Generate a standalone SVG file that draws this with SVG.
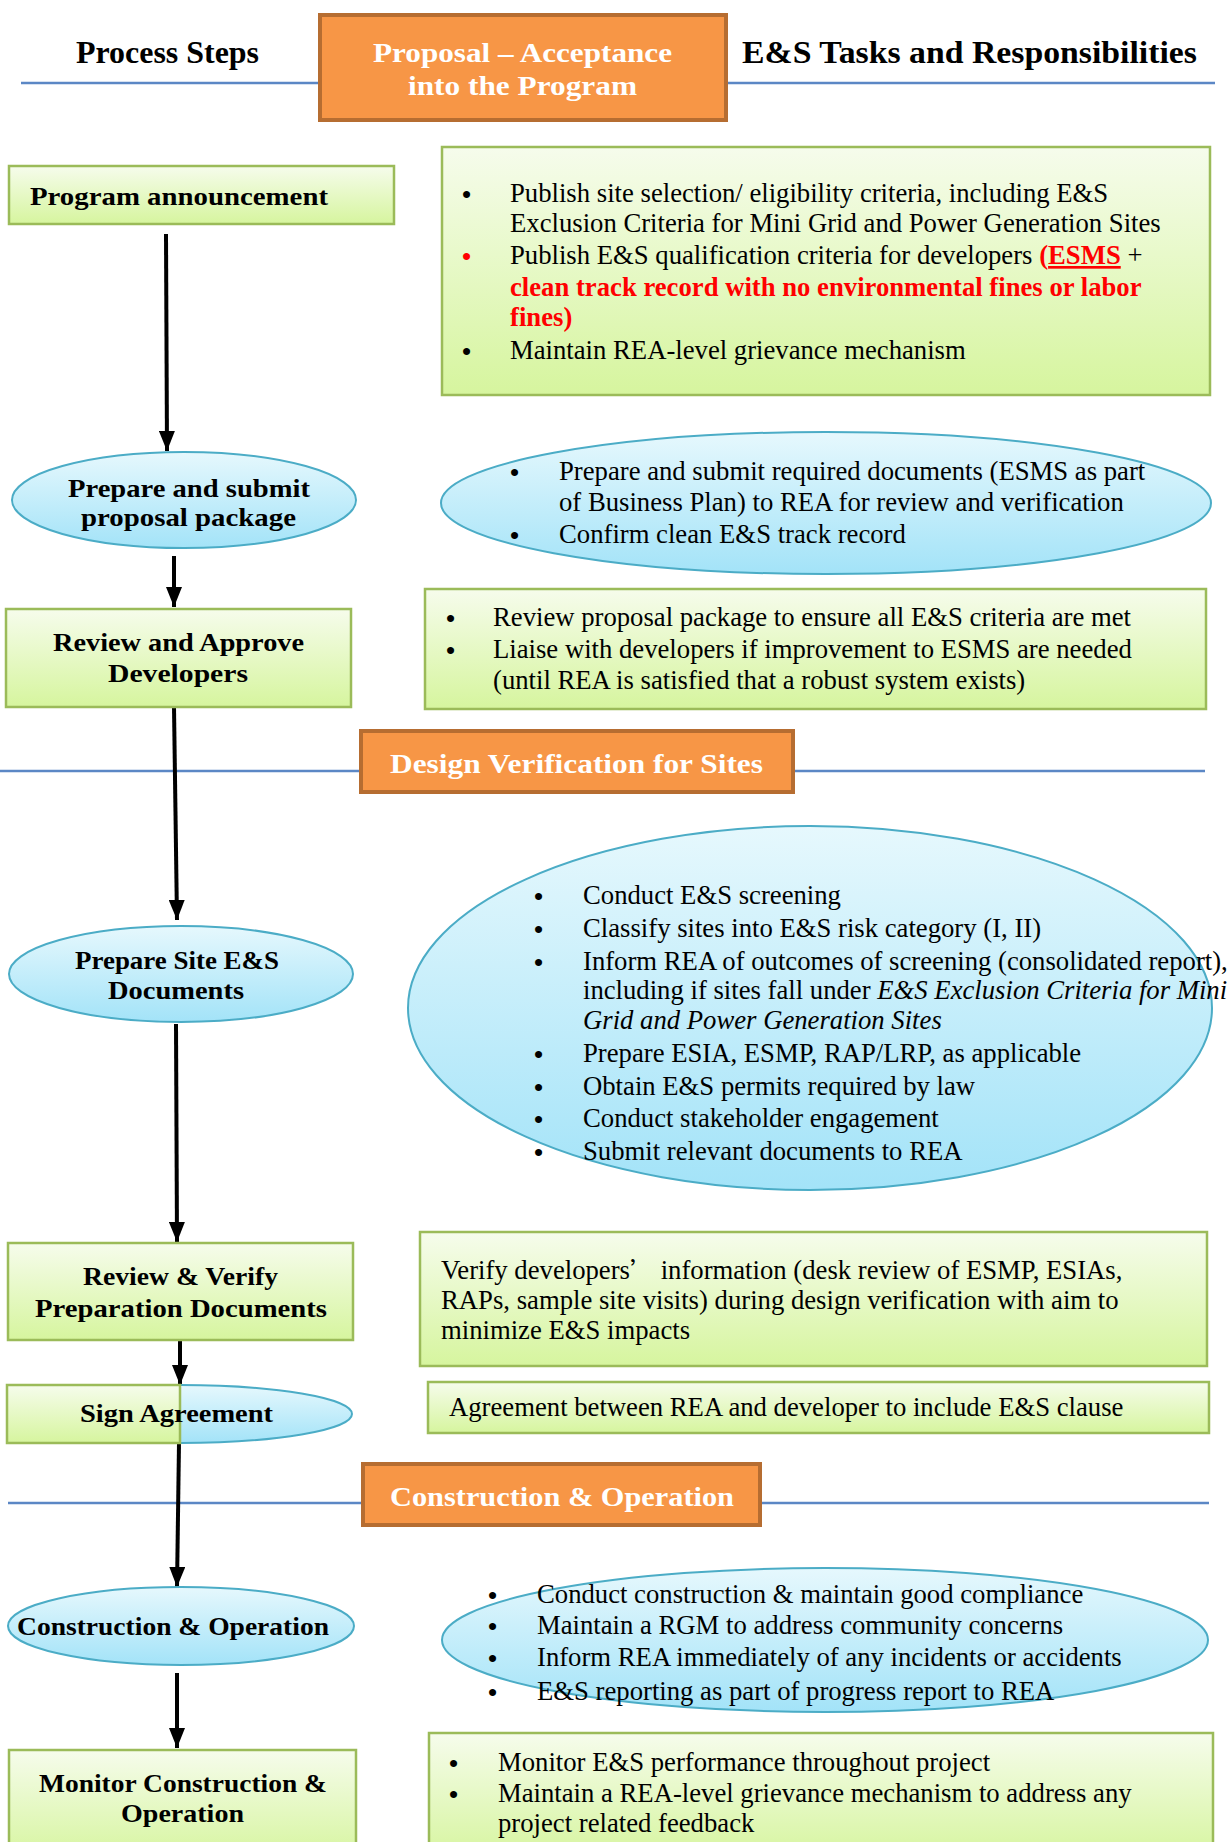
<svg xmlns="http://www.w3.org/2000/svg" width="1231" height="1842" viewBox="0 0 1231 1842">
<defs>
<linearGradient id="gg" x1="0" y1="0" x2="0" y2="1"><stop offset="0" stop-color="#F6FCEC"/><stop offset="1" stop-color="#D6F59E"/></linearGradient>
<linearGradient id="bg" x1="0" y1="0" x2="0" y2="1"><stop offset="0" stop-color="#E6F8FD"/><stop offset="1" stop-color="#A3E3F8"/></linearGradient>
<marker id="ah" viewBox="0 0 20 16" refX="20" refY="8" markerWidth="20" markerHeight="16" markerUnits="userSpaceOnUse" orient="auto"><path d="M0,0 L20,8 L0,16 z" fill="#000"/></marker>
<style>
.gbox{fill:url(#gg);stroke:#9BBB59;stroke-width:2.5}
.bell{fill:url(#bg);stroke:#4BACC6;stroke-width:2}
.obox{fill:#F79646;stroke:#B66D31;stroke-width:4}
.sline{stroke:#5B87C5;stroke-width:2.5;fill:none}
.conn{stroke:#000;stroke-width:4;fill:none;marker-end:url(#ah)}
.hd{font-family:"Liberation Serif",serif;font-weight:bold;font-size:31px;fill:#000}
.wt{font-family:"Liberation Serif",serif;font-weight:bold;font-size:28px;fill:#fff}
.st{font-family:"Liberation Serif",serif;font-weight:bold;font-size:28px;fill:#fff}
.nd{font-family:"Liberation Serif",serif;font-weight:bold;font-size:25px;fill:#000}
.tx{font-family:"Liberation Serif",serif;font-size:26.7px;fill:#000}
.bu{font-family:"Liberation Serif",serif;font-size:26px;font-weight:bold;fill:#000}
.rd{fill:#FF0000;font-weight:bold}
</style>
</defs>
<rect width="1231" height="1842" fill="#fff"/>

<g id="header">
<line class="sline" x1="21" y1="83" x2="1215" y2="83"/>
<text class="hd" x="76" y="63" textLength="183" lengthAdjust="spacingAndGlyphs">Process Steps</text>
<text class="hd" x="742" y="63" textLength="455" lengthAdjust="spacingAndGlyphs">E&amp;S Tasks and Responsibilities</text>
</g>
<g id="sec-proposal">
<rect class="obox" x="320" y="15" width="406" height="105"/>
<text class="wt" x="373" y="62" textLength="299" lengthAdjust="spacingAndGlyphs">Proposal – Acceptance</text>
<text class="wt" x="408" y="95" textLength="229" lengthAdjust="spacingAndGlyphs">into the Program</text>
</g>

<g id="sec-design">
<line class="sline" x1="0" y1="771" x2="1205" y2="771"/>
<rect class="obox" x="361" y="731" width="432" height="61"/>
<text class="st" x="390" y="773" textLength="373" lengthAdjust="spacingAndGlyphs">Design Verification for Sites</text>
</g>

<g id="sec-construction">
<line class="sline" x1="8" y1="1503" x2="1209" y2="1503"/>
<rect class="obox" x="363" y="1464" width="397" height="61"/>
<text class="st" x="390" y="1506" textLength="344" lengthAdjust="spacingAndGlyphs">Construction &amp; Operation</text>
</g>

<g id="connectors">
<line class="conn" x1="166" y1="234" x2="167" y2="451"/>
<line class="conn" x1="174" y1="556" x2="174" y2="607"/>
<line class="conn" x1="174" y1="707" x2="177" y2="920"/>
<line class="conn" x1="176" y1="1024" x2="177" y2="1242"/>
<line class="conn" x1="180" y1="1340" x2="180" y2="1385"/>
<line class="conn" x1="179" y1="1443" x2="177" y2="1587"/>
<line class="conn" x1="177" y1="1673" x2="177" y2="1748"/>
</g>

<g id="n-program">
<rect class="gbox" x="9" y="166" width="385" height="58"/>
<text class="nd" x="30" y="205" textLength="298" lengthAdjust="spacingAndGlyphs">Program announcement</text>
</g>
<g id="t-program">
<rect class="gbox" x="442" y="147" width="768" height="248"/>
<text class="bu" x="462" y="203">•</text>
<text class="tx" x="510" y="202">Publish site selection/ eligibility criteria, including E&amp;S</text>
<text class="tx" x="510" y="232">Exclusion Criteria for Mini Grid and Power Generation Sites</text>
<text class="bu" x="462" y="265" style="fill:#FF0000">•</text>
<text class="tx" x="510" y="264">Publish E&amp;S qualification criteria for developers <tspan class="rd">(</tspan><tspan class="rd" text-decoration="underline">ESMS</tspan> +</text>
<text class="tx rd" x="510" y="296">clean track record with no environmental fines or labor</text>
<text class="tx rd" x="510" y="326">fines)</text>
<text class="bu" x="462" y="360">•</text>
<text class="tx" x="510" y="359">Maintain REA-level grievance mechanism</text>
</g>

<g id="n-prepare">
<ellipse class="bell" cx="184" cy="500" rx="172" ry="48"/>
<text class="nd" x="68" y="497" textLength="242" lengthAdjust="spacingAndGlyphs">Prepare and submit</text>
<text class="nd" x="81" y="526" textLength="215" lengthAdjust="spacingAndGlyphs">proposal package</text>
</g>
<g id="t-prepare">
<ellipse class="bell" cx="826" cy="503" rx="385" ry="71"/>
<text class="bu" x="510" y="481">•</text>
<text class="tx" x="559" y="480">Prepare and submit required documents (ESMS as part</text>
<text class="tx" x="559" y="511">of Business Plan) to REA for review and verification</text>
<text class="bu" x="510" y="544">•</text>
<text class="tx" x="559" y="543">Confirm clean E&amp;S track record</text>
</g>

<g id="n-review">
<rect class="gbox" x="6" y="609" width="345" height="98"/>
<text class="nd" x="53" y="651" textLength="251" lengthAdjust="spacingAndGlyphs">Review and Approve</text>
<text class="nd" x="108" y="682" textLength="140" lengthAdjust="spacingAndGlyphs">Developers</text>
</g>
<g id="t-review">
<rect class="gbox" x="425" y="589" width="781" height="120"/>
<text class="bu" x="446" y="627">•</text>
<text class="tx" x="493" y="626">Review proposal package to ensure all E&amp;S criteria are met</text>
<text class="bu" x="446" y="659">•</text>
<text class="tx" x="493" y="658">Liaise with developers if improvement to ESMS are needed</text>
<text class="tx" x="493" y="689">(until REA is satisfied that a robust system exists)</text>
</g>

<g id="n-site">
<ellipse class="bell" cx="181" cy="974" rx="172" ry="48"/>
<text class="nd" x="75" y="969" textLength="204" lengthAdjust="spacingAndGlyphs">Prepare Site E&amp;S</text>
<text class="nd" x="108" y="999" textLength="136" lengthAdjust="spacingAndGlyphs">Documents</text>
</g>
<g id="t-site">
<ellipse class="bell" cx="810" cy="1008" rx="402" ry="182"/>
<text class="bu" x="534" y="905">•</text>
<text class="tx" x="583" y="904">Conduct E&amp;S screening</text>
<text class="bu" x="534" y="938">•</text>
<text class="tx" x="583" y="937">Classify sites into E&amp;S risk category (I, II)</text>
<text class="bu" x="534" y="971">•</text>
<text class="tx" x="583" y="970">Inform REA of outcomes of screening (consolidated report),</text>
<text class="tx" x="583" y="999">including if sites fall under <tspan font-style="italic">E&amp;S Exclusion Criteria for Mini</tspan></text>
<text class="tx" x="583" y="1029" font-style="italic">Grid and Power Generation Sites</text>
<text class="bu" x="534" y="1063">•</text>
<text class="tx" x="583" y="1062">Prepare ESIA, ESMP, RAP/LRP, as applicable</text>
<text class="bu" x="534" y="1096">•</text>
<text class="tx" x="583" y="1095">Obtain E&amp;S permits required by law</text>
<text class="bu" x="534" y="1128">•</text>
<text class="tx" x="583" y="1127">Conduct stakeholder engagement</text>
<text class="bu" x="534" y="1161">•</text>
<text class="tx" x="583" y="1160">Submit relevant documents to REA</text>
</g>

<g id="n-verify">
<rect class="gbox" x="8" y="1243" width="345" height="97"/>
<text class="nd" x="83" y="1285" textLength="195" lengthAdjust="spacingAndGlyphs">Review &amp; Verify</text>
<text class="nd" x="35" y="1317" textLength="292" lengthAdjust="spacingAndGlyphs">Preparation Documents</text>
</g>
<g id="t-verify">
<rect class="gbox" x="420" y="1232" width="787" height="134"/>
<text class="tx" x="441" y="1279">Verify developers<tspan font-family="'Noto Sans CJK SC',sans-serif" font-size="24">’</tspan> information (desk review of ESMP, ESIAs,</text>
<text class="tx" x="441" y="1309">RAPs, sample site visits) during design verification with aim to</text>
<text class="tx" x="441" y="1339">minimize E&amp;S impacts</text>
</g>

<g id="n-sign">
<ellipse class="bell" cx="180" cy="1414" rx="172" ry="29"/>
<rect class="gbox" x="7" y="1385" width="173" height="58"/>
<text class="nd" x="80" y="1422" textLength="193" lengthAdjust="spacingAndGlyphs">Sign Agreement</text>
</g>
<g id="t-sign">
<rect class="gbox" x="428" y="1382" width="781" height="51"/>
<text class="tx" x="449" y="1416">Agreement between REA and developer to include E&amp;S clause</text>
</g>

<g id="n-construction">
<ellipse class="bell" cx="181" cy="1626" rx="173" ry="39"/>
<text class="nd" x="17" y="1635" textLength="312" lengthAdjust="spacingAndGlyphs">Construction &amp; Operation</text>
</g>
<g id="t-construction">
<ellipse class="bell" cx="825" cy="1640" rx="383" ry="72"/>
<text class="bu" x="488" y="1604">•</text>
<text class="tx" x="537" y="1603">Conduct construction &amp; maintain good compliance</text>
<text class="bu" x="488" y="1635">•</text>
<text class="tx" x="537" y="1634">Maintain a RGM to address community concerns</text>
<text class="bu" x="488" y="1667">•</text>
<text class="tx" x="537" y="1666">Inform REA immediately of any incidents or accidents</text>
<text class="bu" x="488" y="1701">•</text>
<text class="tx" x="537" y="1700">E&amp;S reporting as part of progress report to REA</text>
</g>

<g id="n-monitor">
<rect class="gbox" x="9" y="1750" width="347" height="110"/>
<text class="nd" x="39" y="1792" textLength="288" lengthAdjust="spacingAndGlyphs">Monitor Construction &amp;</text>
<text class="nd" x="121" y="1822" textLength="123" lengthAdjust="spacingAndGlyphs">Operation</text>
</g>
<g id="t-monitor">
<rect class="gbox" x="429" y="1733" width="784" height="127"/>
<text class="bu" x="449" y="1772">•</text>
<text class="tx" x="498" y="1771">Monitor E&amp;S performance throughout project</text>
<text class="bu" x="449" y="1803">•</text>
<text class="tx" x="498" y="1802">Maintain a REA-level grievance mechanism to address any</text>
<text class="tx" x="498" y="1832">project related feedback</text>
</g>
</svg>
